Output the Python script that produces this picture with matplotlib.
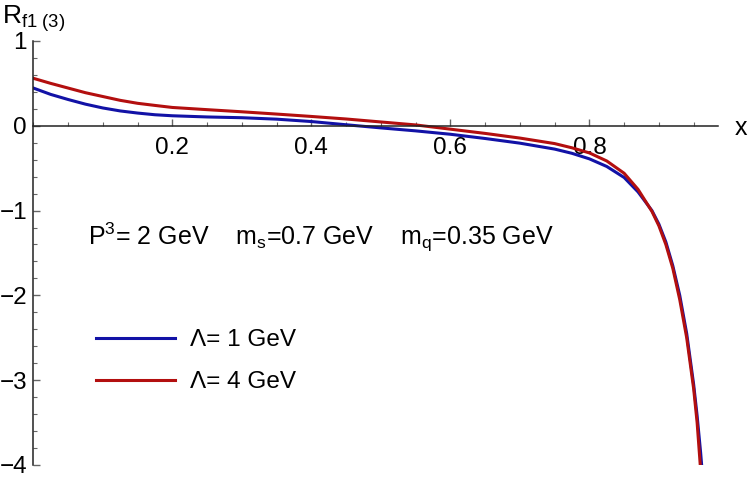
import matplotlib
matplotlib.use('Agg')
import matplotlib.pyplot as plt
from matplotlib.ticker import MultipleLocator, FixedLocator

plt.rcParams['font.family'] = ['Liberation Sans', 'DejaVu Sans']
plt.rcParams['mathtext.fontset'] = 'custom'
plt.rcParams['mathtext.rm'] = 'Liberation Sans'
plt.rcParams['mathtext.it'] = 'Liberation Sans'

# values
x_blue = [0.0, 0.025, 0.05, 0.075, 0.1, 0.125, 0.15, 0.175, 0.2, 0.25, 0.3,
          0.35, 0.4, 0.45, 0.5, 0.55, 0.6, 0.65, 0.7, 0.75, 0.775, 0.8,
          0.825, 0.85, 0.87, 0.89, 0.9, 0.91, 0.92, 0.93, 0.94, 0.95,
          0.955, 0.96, 0.9615]
r_blue = [0.445, 0.37, 0.31, 0.255, 0.21, 0.175, 0.15, 0.13, 0.118, 0.104,
          0.095, 0.078, 0.05, 0.012, -0.025, -0.06, -0.10, -0.15, -0.205,
          -0.275, -0.325, -0.39, -0.48, -0.61, -0.78, -1.0, -1.16, -1.37,
          -1.65, -2.0, -2.45, -3.05, -3.42, -3.85, -4.0]

x_red = [0.0, 0.025, 0.05, 0.075, 0.1, 0.125, 0.15, 0.175, 0.2, 0.25, 0.3,
         0.35, 0.4, 0.45, 0.5, 0.55, 0.6, 0.65, 0.7, 0.75, 0.775, 0.8,
         0.825, 0.85, 0.87, 0.89, 0.9, 0.91, 0.92, 0.93, 0.94, 0.95,
         0.955, 0.9595]
r_red = [0.56, 0.50, 0.445, 0.39, 0.345, 0.30, 0.265, 0.24, 0.216, 0.19,
         0.165, 0.138, 0.11, 0.08, 0.045, 0.01, -0.04, -0.09, -0.145, -0.21,
         -0.26, -0.32, -0.415, -0.56, -0.75, -1.01, -1.18, -1.40, -1.68,
         -2.05, -2.5, -3.1, -3.5, -4.0]

labels = ['Λ= 1 GeV', 'Λ= 4 GeV']
colors = ['#1212a6', '#b30f0f']
x_ticks = [0.2, 0.4, 0.6, 0.8]
y_ticks = [-4, -3, -2, -1, 0, 1]

fig = plt.figure(figsize=(7.5, 4.82), dpi=100)
ax = fig.add_axes([0.0444, 0.0353, 0.9129, 0.8797])

ax.plot(x_blue, r_blue, color=colors[0], lw=2.2, label=labels[0])
ax.plot(x_red, r_red, color=colors[1], lw=2.2, label=labels[1])

ax.set_xlim(0, 0.985)
ax.set_ylim(-4, 1)

for side in ['top', 'right']:
    ax.spines[side].set_visible(False)
ax.spines['left'].set_position(('data', 0))
ax.spines['bottom'].set_position(('data', 0))
for side in ['left', 'bottom']:
    ax.spines[side].set_color('#222222')
    ax.spines[side].set_linewidth(1.1)

ax.xaxis.set_major_locator(FixedLocator(x_ticks))
ax.xaxis.set_minor_locator(MultipleLocator(0.05))
ax.yaxis.set_major_locator(FixedLocator(y_ticks))
ax.yaxis.set_minor_locator(MultipleLocator(0.2))
ax.set_xticklabels([f'{t:.1f}' for t in x_ticks])
ax.set_yticklabels([str(t).replace('-', '\u2212') for t in y_ticks])

ax.tick_params(which='both', direction='in', color='#666666', labelsize=17.5)
ax.tick_params(which='major', length=5, width=1)
ax.tick_params(which='minor', length=3, width=0.8)
ax.tick_params(axis='x', pad=8)
ax.tick_params(axis='y', pad=4.5)

ax.text(0.0787, -1.32,
        r'P$^{3}$= 2 GeV    m$_{\mathrm{s}}$=0.7 GeV    m$_{\mathrm{q}}$=0.35 GeV',
        fontsize=18, va='center', ha='left')

ax.legend(loc='upper left', bbox_to_anchor=(0.128, 0.3174),
          bbox_transform=fig.transFigure, frameon=False, fontsize=17.5,
          handlelength=3.25, handletextpad=0.62, labelspacing=0.84,
          borderaxespad=0, borderpad=0)

fig.text(0.002, 0.962, r'R$_{\mathrm{f1\ (3)}}$', fontsize=19, va='center',
         ha='left')
fig.text(0.979, 0.735, 'x', fontsize=18, va='center', ha='left')

fig.savefig('out.png', dpi=100)
